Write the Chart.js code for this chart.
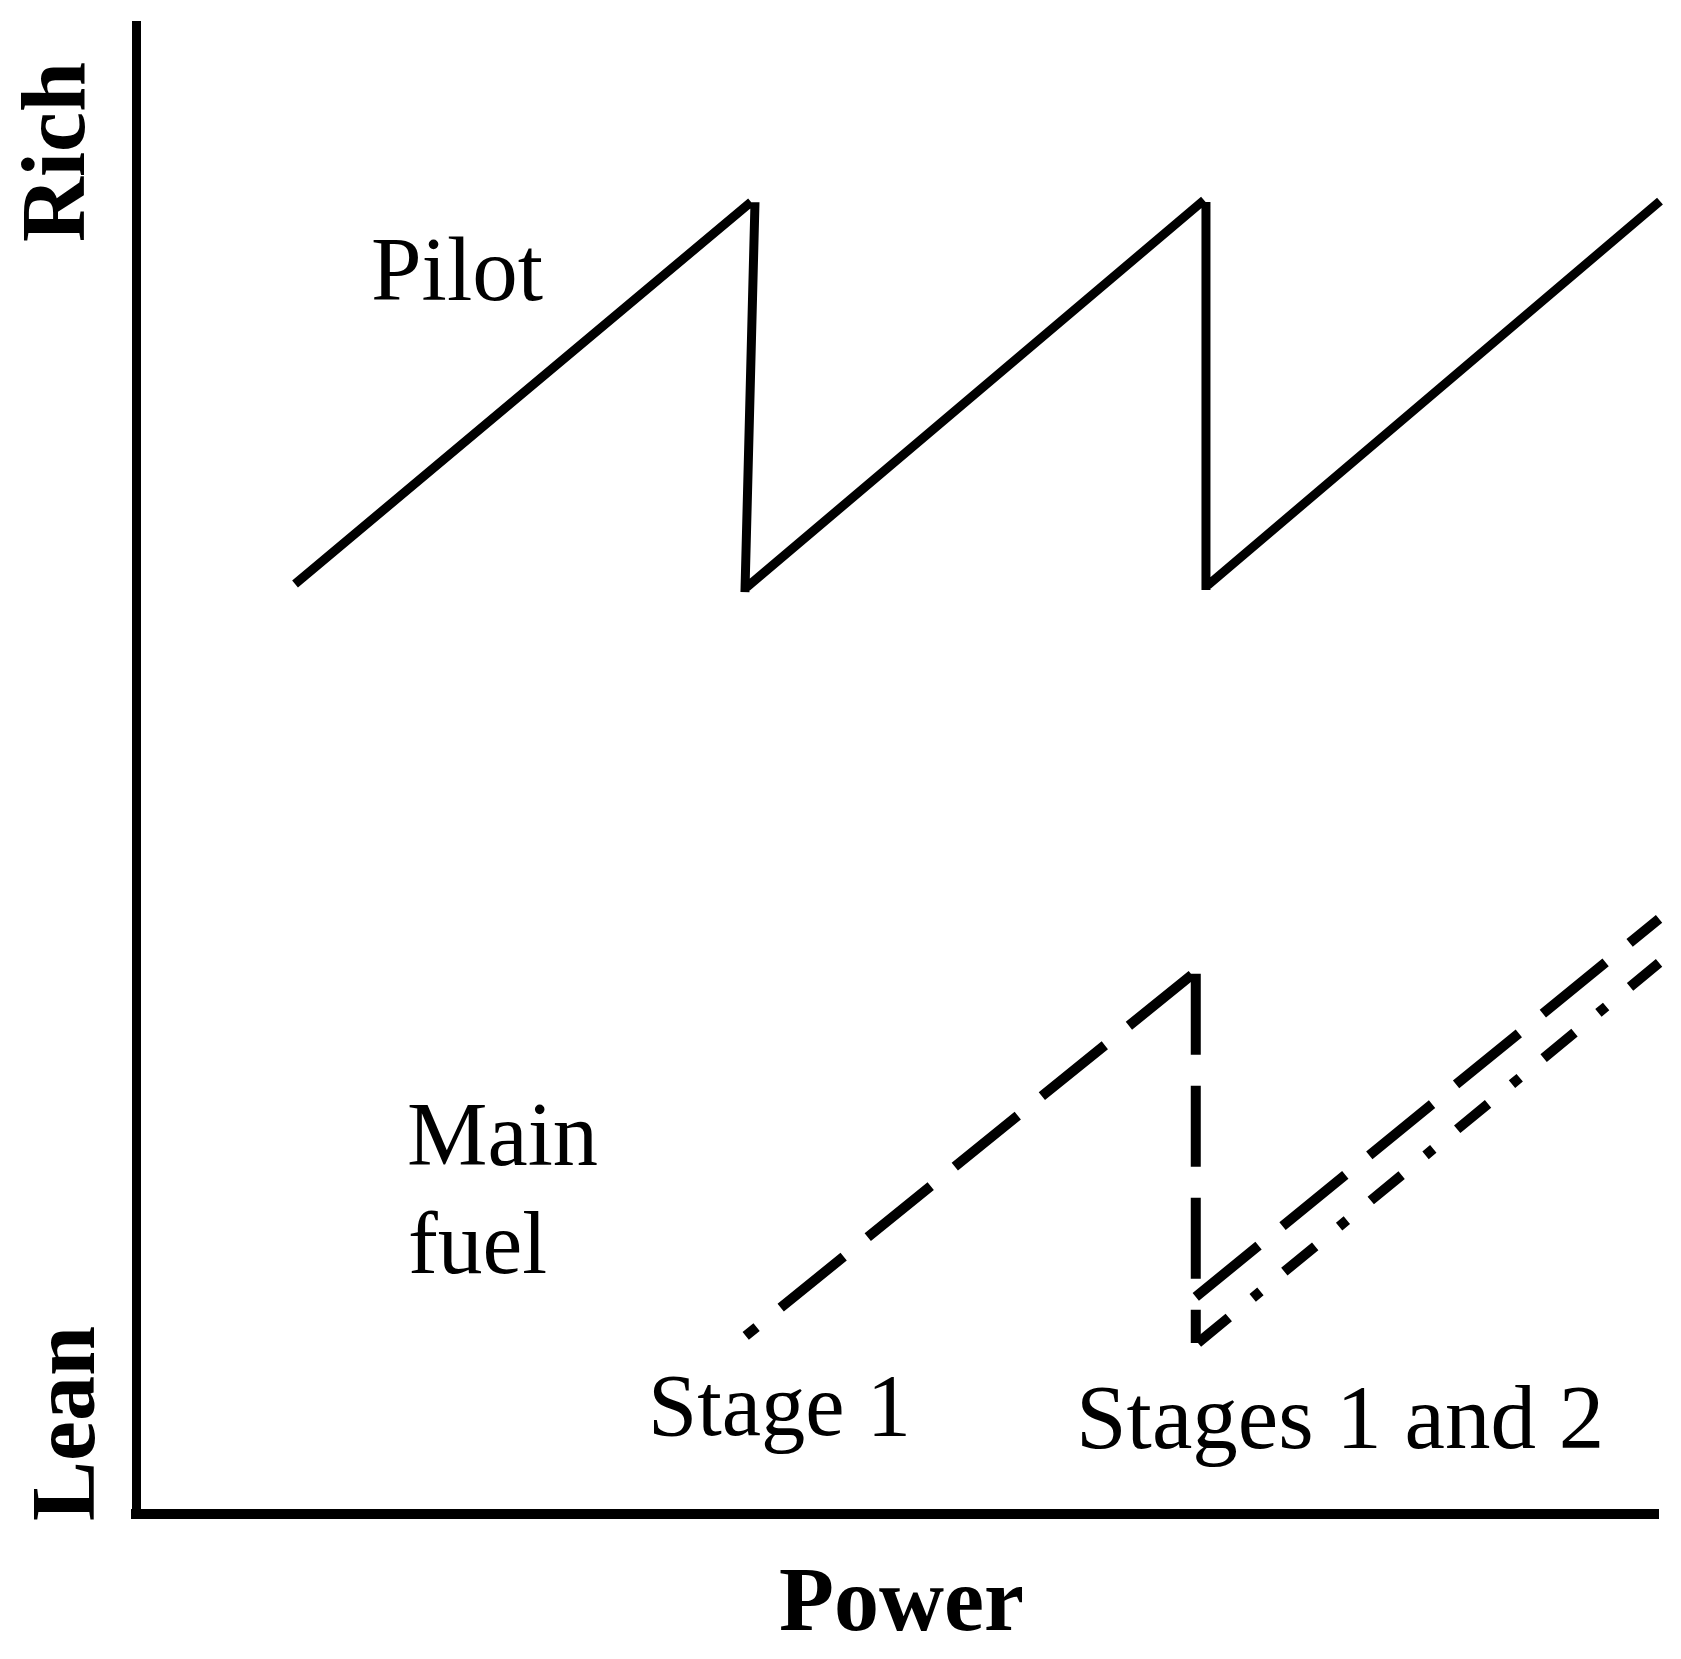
<!DOCTYPE html>
<html>
<head>
<meta charset="utf-8">
<style>html,body{margin:0;padding:0;background:#fff}canvas{display:block}</style>
<script src="https://cdn.jsdelivr.net/npm/chart.js@4"></script>
</head>
<body>
<canvas id="c" width="1681" height="1659"></canvas>
<script>
// Schematic values, in percent of each axis (power, richness). null breaks the stroke.
const pilotX = [10.45, 40.41, null, 40.67, 40.01, null, 40.14, 70.17, null, 70.30, 70.30, null, 70.43, 100.13];
const pilotY = [62.25, 87.82, null, 87.82, 61.71, null, 62.05, 87.95, null, 87.82, 61.85, null, 62.18, 87.88];
const stage1RiseX = [40.06, 69.37];
const stage1RiseY = [11.92, 36.09];
const stagingDropX = [69.63, 69.63];
const stagingDropY = [36.16, 11.45];
const stage2UpperX = [69.63, 100.07];
const stage2UpperY = [14.53, 39.84];
const stage2LowerX = [69.77, 100.07];
const stage2LowerY = [11.45, 36.89];
const seriesNames = ['Pilot', 'Stage 1', 'Staging', 'Stage 2 upper', 'Stages 1 and 2 lower'];
const axisLabels = { x: 'Power', yLow: 'Lean', yHigh: 'Rich' };
const curveLabels = ['Pilot', 'Main', 'fuel', 'Stage 1', 'Stages 1 and 2'];

const pts = (xs, ys) => xs.map((x, i) => ({ x, y: ys[i] }));
const line = (label, xs, ys, width, dash, offset) => ({
  label, data: pts(xs, ys), showLine: true, borderColor: '#000', backgroundColor: '#000',
  borderWidth: width, borderDash: dash || [], borderDashOffset: offset || 0,
  borderCapStyle: 'butt', borderJoinStyle: 'miter', tension: 0, pointRadius: 0,
  pointHoverRadius: 0, clip: false, spanGaps: false
});

const SERIF = '"Liberation Serif", "Times New Roman", serif';
const textPlugin = {
  id: 'chartText',
  afterDraw(chart) {
    const g = chart.ctx;
    g.save();
    g.fillStyle = '#000';
    g.textBaseline = 'alphabetic';
    g.textAlign = 'left';
    [[0, 371, 300, 91], [1, 407, 1165, 90.5], [2, 408, 1273, 89.5], [3, 648, 1435, 88.5], [4, 1076, 1448, 91]]
      .forEach(([i, x, y, size]) => {
        g.font = size + 'px ' + SERIF;
        g.fillText(curveLabels[i], x, y);
      });
    g.font = 'bold 90px ' + SERIF;
    g.fillText(axisLabels.x, 779, 1630);
    [[axisLabels.yHigh, 84, 242], [axisLabels.yLow, 94, 1521]].forEach(([t, x, y]) => {
      g.save();
      g.translate(x, y);
      g.rotate(-Math.PI / 2);
      g.fillText(t, 0, 0);
      g.restore();
    });
    g.restore();
  }
};

new Chart(document.getElementById('c'), {
  type: 'scatter',
  data: {
    datasets: [
      line(seriesNames[0], pilotX, pilotY, 9),
      line(seriesNames[1], stage1RiseX, stage1RiseY, 10, [81, 31], 67),
      line(seriesNames[2], stagingDropX, stagingDropY, 10, [81, 31]),
      line(seriesNames[3], stage2UpperX, stage2UpperY, 10, [81, 31]),
      line(seriesNames[4], stage2LowerX, stage2LowerY, 10, [40, 31, 10, 31])
    ]
  },
  options: {
    responsive: false,
    animation: false,
    devicePixelRatio: 1,
    layout: { padding: { left: 136, top: 25, right: 23, bottom: 145 } },
    plugins: { legend: { display: false }, tooltip: { enabled: false } },
    scales: {
      x: {
        type: 'linear', min: 0, max: 100,
        grid: { display: false, drawTicks: false },
        ticks: { display: false },
        border: { display: true, color: '#000', width: 10 }
      },
      y: {
        type: 'linear', min: 0, max: 99.67,
        grid: { display: false, drawTicks: false },
        ticks: { display: false },
        border: { display: true, color: '#000', width: 9 }
      }
    }
  },
  plugins: [textPlugin]
});
</script>
</body>
</html>
